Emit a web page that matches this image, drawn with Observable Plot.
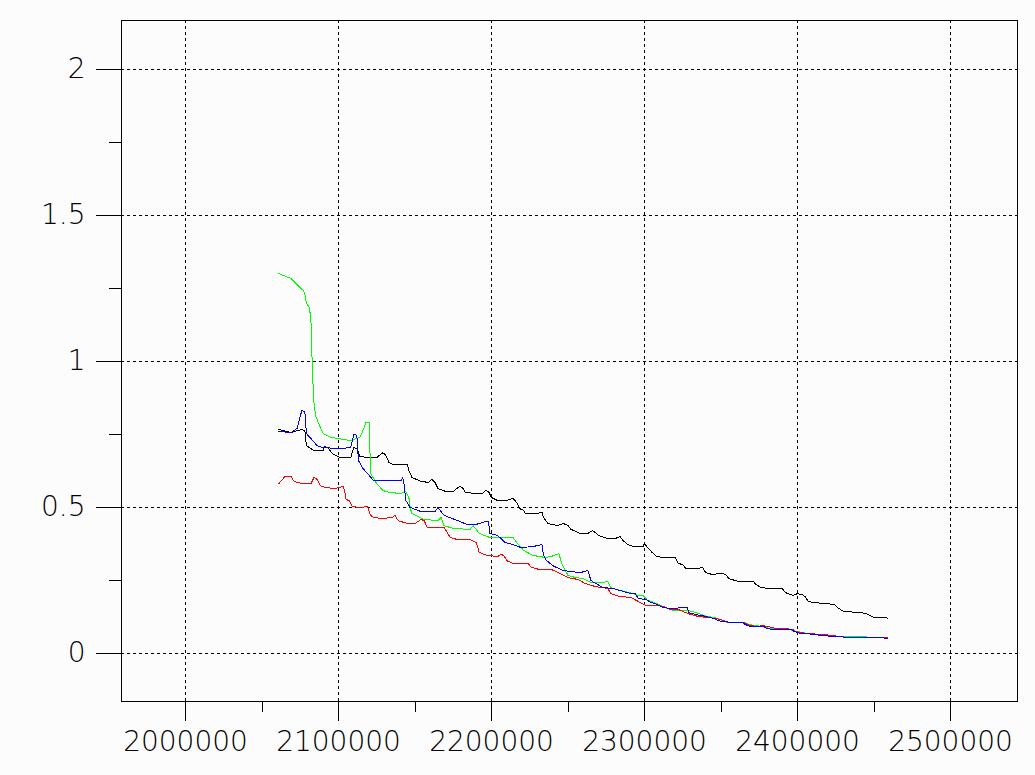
<!DOCTYPE html>
<html><head><meta charset="utf-8">
<script src="https://cdn.jsdelivr.net/npm/d3@7"></script>
<script src="https://cdn.jsdelivr.net/npm/@observablehq/plot@0.6"></script>
<style>html,body{margin:0;padding:0;background:#fcfcfc}</style>
</head><body><div id="chart"></div>
<script>
const blackX = [2061000,2069000,2076000,2078000,2079000,2084000,2090000,2091000,2093000,2096000,2101000,2108000,2110000,2112000,2114000,2119000,2125000,2129000,2131000,2133000,2136000,2145000,2146000,2148000,2154000,2159000,2161000,2163000,2165000,2170000,2175000,2179000,2181000,2183000,2191000,2194000,2196000,2198000,2200000,2204000,2210000,2214000,2217000,2218000,2221000,2222000,2229000,2233000,2234000,2237000,2243000,2247000,2250000,2252000,2258000,2263000,2266000,2268000,2270000,2276000,2281000,2284000,2286000,2289000,2293000,2299000,2300000,2302000,2305000,2308000,2312000,2320000,2322000,2325000,2327000,2335000,2338000,2340000,2344000,2350000,2353000,2355000,2361000,2371000,2373000,2376000,2381000,2390000,2392000,2395000,2397000,2400000,2403000,2405000,2407000,2410000,2424000,2426000,2430000,2442000,2446000,2450000,2458000,2459000];
const blackY = [0.767,0.757,0.767,0.764,0.712,0.695,0.695,0.709,0.705,0.685,0.671,0.671,0.705,0.702,0.675,0.671,0.671,0.688,0.678,0.654,0.647,0.647,0.627,0.603,0.589,0.586,0.596,0.586,0.565,0.555,0.555,0.572,0.568,0.551,0.548,0.548,0.558,0.555,0.534,0.524,0.524,0.531,0.514,0.497,0.490,0.479,0.479,0.483,0.466,0.445,0.438,0.445,0.438,0.425,0.411,0.411,0.421,0.414,0.404,0.394,0.394,0.401,0.387,0.373,0.366,0.366,0.377,0.363,0.346,0.332,0.329,0.329,0.308,0.305,0.291,0.291,0.295,0.277,0.271,0.274,0.271,0.257,0.247,0.247,0.236,0.226,0.223,0.223,0.209,0.202,0.199,0.205,0.202,0.195,0.178,0.175,0.168,0.158,0.144,0.140,0.134,0.123,0.123,0.120];

const blueX = [2061000,2069000,2073000,2076000,2078000,2079000,2082000,2086000,2090000,2101000,2108000,2110000,2112000,2113000,2116000,2120000,2123000,2141000,2142000,2143000,2144000,2147000,2154000,2163000,2165000,2169000,2178000,2184000,2190000,2196000,2198000,2199000,2204000,2209000,2216000,2219000,2227000,2233000,2234000,2236000,2241000,2247000,2258000,2263000,2265000,2268000,2273000,2279000,2284000,2291000,2294000,2296000,2301000,2304000,2307000,2312000,2317000,2328000,2329000,2333000,2340000,2345000,2350000,2358000,2364000,2366000,2369000,2378000,2380000,2384000,2396000,2398000,2402000,2407000,2410000,2424000,2435000,2454000,2459000];
const blueY = [0.760,0.757,0.771,0.832,0.829,0.753,0.736,0.712,0.705,0.702,0.705,0.750,0.747,0.661,0.634,0.610,0.592,0.592,0.603,0.575,0.524,0.500,0.486,0.486,0.500,0.473,0.455,0.442,0.442,0.452,0.452,0.411,0.404,0.380,0.370,0.363,0.366,0.373,0.336,0.318,0.298,0.284,0.277,0.284,0.250,0.240,0.226,0.223,0.216,0.205,0.205,0.188,0.185,0.175,0.171,0.158,0.154,0.158,0.140,0.134,0.127,0.120,0.110,0.106,0.106,0.099,0.092,0.092,0.086,0.082,0.082,0.075,0.068,0.068,0.065,0.058,0.055,0.055,0.051];

const greenX = [2061000,2069000,2075000,2077000,2078000,2079000,2081000,2082000,2083000,2084000,2085000,2087000,2090000,2095000,2100000,2108000,2114000,2116000,2118000,2120000,2121000,2125000,2129000,2134000,2141000,2144000,2146000,2147000,2148000,2156000,2165000,2167000,2169000,2175000,2186000,2188000,2192000,2199000,2214000,2217000,2221000,2227000,2235000,2239000,2244000,2246000,2250000,2255000,2260000,2265000,2273000,2276000,2278000,2282000,2290000,2296000,2299000,2302000,2306000,2308000,2315000,2319000,2328000,2331000,2335000,2339000,2348000,2354000,2366000,2368000,2378000,2381000,2390000,2395000,2400000,2407000,2417000,2428000,2442000,2449000,2459000];
const greenY = [1.301,1.284,1.253,1.243,1.233,1.199,1.185,1.140,0.959,0.856,0.815,0.788,0.753,0.740,0.736,0.729,0.740,0.764,0.791,0.791,0.616,0.582,0.558,0.551,0.548,0.555,0.534,0.497,0.479,0.459,0.455,0.466,0.438,0.428,0.425,0.438,0.411,0.397,0.397,0.377,0.353,0.336,0.329,0.332,0.342,0.308,0.267,0.260,0.257,0.243,0.243,0.247,0.226,0.219,0.209,0.199,0.199,0.182,0.175,0.171,0.154,0.147,0.147,0.144,0.137,0.130,0.120,0.106,0.106,0.099,0.092,0.086,0.086,0.082,0.075,0.068,0.065,0.058,0.058,0.055,0.055];

const redX = [2061000,2065000,2069000,2071000,2076000,2082000,2084000,2086000,2088000,2092000,2098000,2103000,2104000,2105000,2107000,2109000,2114000,2119000,2121000,2123000,2129000,2135000,2137000,2139000,2145000,2150000,2154000,2156000,2158000,2169000,2173000,2178000,2186000,2190000,2192000,2197000,2204000,2206000,2208000,2210000,2214000,2224000,2226000,2231000,2239000,2245000,2250000,2257000,2261000,2268000,2276000,2278000,2284000,2291000,2296000,2301000,2310000,2314000,2317000,2322000,2325000,2330000,2335000,2342000,2346000,2350000,2355000,2365000,2369000,2374000,2377000,2381000,2386000,2391000,2397000,2399000,2407000,2417000,2428000,2433000,2459000];
const redY = [0.582,0.606,0.606,0.589,0.582,0.582,0.603,0.596,0.575,0.568,0.565,0.572,0.558,0.527,0.524,0.503,0.500,0.503,0.473,0.466,0.462,0.466,0.473,0.455,0.445,0.445,0.459,0.455,0.432,0.432,0.397,0.390,0.390,0.380,0.346,0.336,0.332,0.339,0.336,0.318,0.308,0.308,0.295,0.288,0.288,0.274,0.260,0.253,0.240,0.229,0.223,0.205,0.195,0.192,0.178,0.164,0.164,0.158,0.151,0.151,0.144,0.134,0.127,0.123,0.120,0.116,0.106,0.106,0.096,0.092,0.096,0.092,0.086,0.086,0.082,0.075,0.068,0.065,0.058,0.055,0.055];

const xMajor = [2000000,2100000,2200000,2300000,2400000,2500000];
const xMinor = [2050000,2150000,2250000,2350000,2450000];
const yMajor = [0,0.5,1,1.5,2];
const yMinor = [0.25,0.75,1.25,1.75];

const dash = {stroke:"black", strokeOpacity:1, strokeDasharray:"3,3"};
const chart = Plot.plot({
  width: 1035, height: 775,
  marginLeft: 121, marginRight: 18, marginTop: 20, marginBottom: 74,
  x: {domain: [1958170, 2543790]},
  y: {domain: [-0.1644, 2.1678]},
  style: {background:"#fcfcfc", color:"black", fontFamily:"'DejaVu Sans ExtraLight', 'DejaVu Sans', sans-serif", fontSize:"28px", fontWeight:200, shapeRendering:"crispEdges"},
  marks: [
    Plot.gridX(xMajor, dash),
    Plot.gridY(yMajor, dash),
    Plot.line(d3.zip(blackX, blackY), {stroke:"#000000", strokeWidth:1}),
    Plot.line(d3.zip(greenX, greenY), {stroke:"#00ff00", strokeWidth:1}),
    Plot.line(d3.zip(redX, redY), {stroke:"#ff0000", strokeWidth:1}),
    Plot.line(d3.zip(blueX, blueY), {stroke:"#0000ff", strokeWidth:1}),
    Plot.frame({stroke:"black"}),
    Plot.axisX(xMajor, {tickSize:20, tickPadding:10, tickFormat:d => String(d), label:null, fill:"black", stroke:"black"}),
    Plot.axisX(xMinor, {tickSize:11, fill:"none", stroke:"black", label:null}),
    Plot.axisY(yMajor, {tickSize:25, tickPadding:11, tickFormat:d => String(d), label:null, fill:"black", stroke:"black"}),
    Plot.axisY(yMinor, {tickSize:12, fill:"none", stroke:"black", label:null})
  ]
});
document.getElementById("chart").appendChild(chart);
</script>
</body></html>
